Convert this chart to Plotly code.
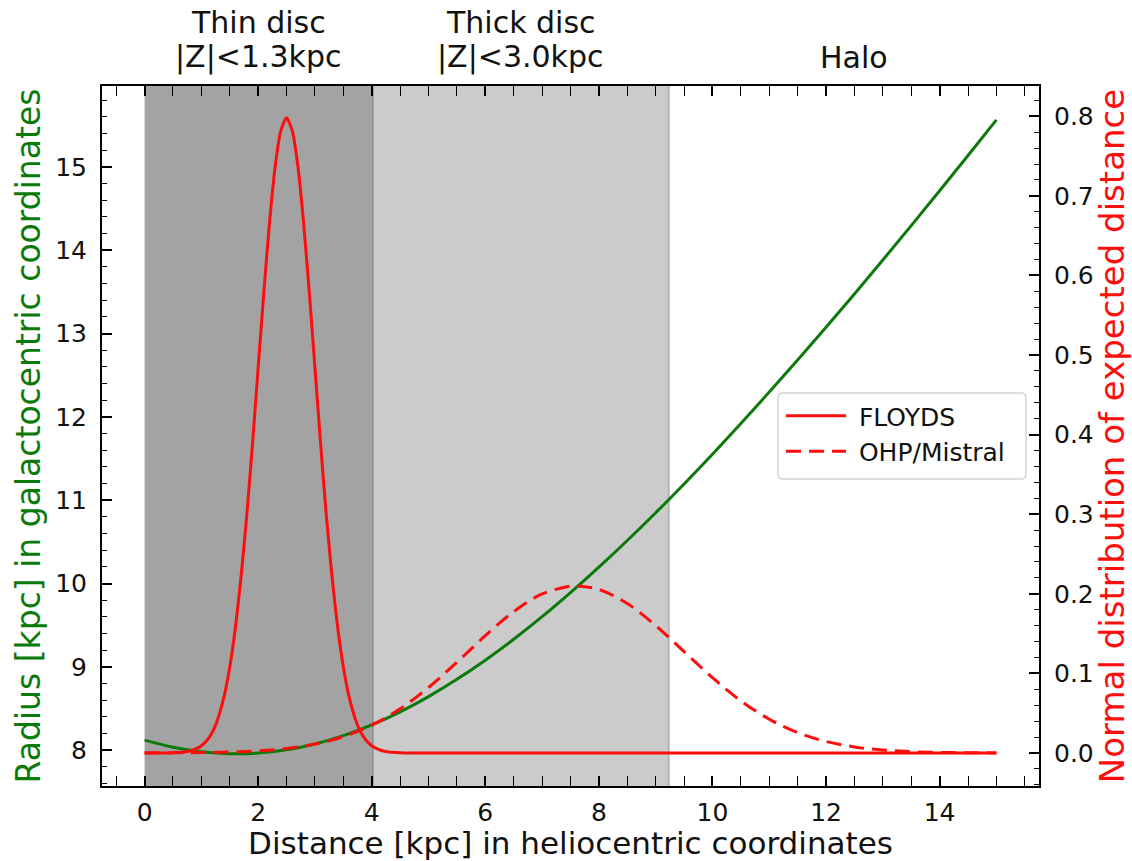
import plotly.graph_objects as go

# ---- data ----
# Galactocentric radius vs heliocentric distance (green, left axis)
dist_green = [0, 0.5, 1, 1.5, 2, 2.5, 3, 3.5, 4, 4.5, 5, 5.5, 6, 6.5, 7, 7.5, 8, 8.5,
              9, 9.5, 10, 10.5, 11, 11.5, 12, 12.5, 13, 13.5, 14, 14.5, 15]
radius = [8.120, 8.035, 7.980, 7.957, 7.965, 8.004, 8.074, 8.174, 8.303, 8.460, 8.643,
          8.850, 9.080, 9.331, 9.602, 9.891, 10.196, 10.516, 10.849, 11.195, 11.552,
          11.920, 12.297, 12.682, 13.075, 13.475, 13.882, 14.295, 14.713, 15.136, 15.563]

# FLOYDS expected-distance distribution (solid red, right axis)
floyds_x = [0, 0.3, 0.5, 0.7, 0.8, 0.9, 1.0, 1.1, 1.2, 1.3, 1.4, 1.5, 1.6, 1.7, 1.8, 1.9,
            2.0, 2.1, 2.2, 2.3, 2.4, 2.5, 2.6, 2.7, 2.8, 2.9, 3.0, 3.1, 3.2, 3.3, 3.4,
            3.5, 3.6, 3.7, 3.8, 3.9, 4.0, 4.1, 4.2, 4.3, 4.5, 4.7, 5.0, 15.0]
floyds_y = [0.0, 0.0, 0.0003, 0.0012, 0.0025, 0.005, 0.009, 0.016, 0.027, 0.045, 0.071,
            0.108, 0.158, 0.222, 0.299, 0.388, 0.484, 0.579, 0.666, 0.737, 0.782, 0.798,
            0.782, 0.737, 0.666, 0.579, 0.484, 0.388, 0.299, 0.222, 0.158, 0.108, 0.071,
            0.045, 0.027, 0.016, 0.009, 0.005, 0.0025, 0.0012, 0.0003, 0.0, 0.0, 0.0]

# OHP/Mistral expected-distance distribution (dashed red, right axis)
ohp_x = [0, 1, 1.5, 2, 2.5, 3, 3.5, 4, 4.5, 5, 5.5, 6, 6.5, 7, 7.5, 7.6, 8, 8.5, 9, 9.5,
         10, 10.5, 11, 11.5, 12, 12.5, 13, 13.5, 14, 14.5, 15]
ohp_y = [0.0001, 0.0005, 0.0012, 0.0027, 0.0057, 0.0112, 0.0205, 0.0349, 0.0555, 0.0823,
         0.1140, 0.1473, 0.1776, 0.1998, 0.2097, 0.2100, 0.2054, 0.1877, 0.1601, 0.1274,
         0.0946, 0.0655, 0.0424, 0.0255, 0.0144, 0.0076, 0.0037, 0.0017, 0.0007, 0.0003,
         0.0001]

# regions (heliocentric distance, kpc)
region_bounds = [0.0, 4.02, 9.23, 15.75]
region_line1 = ["Thin disc", "Thick disc", ""]
region_line2 = ["|Z|<1.3kpc", "|Z|<3.0kpc", "Halo"]
region_fill = ["#a3a3a3", "#cbcbcb", None]

FONT = "DejaVu Sans"
GREEN = "#0b7a0b"
RED = "#ff0d0d"

# plot-area geometry (pixels)
W, H = 1132, 861
PL, PR, PT, PB = 102, 1039, 86, 786


def px_x(p):
    return (p - PL) / (PR - PL)


def px_y(p):
    return (PB - p) / (PB - PT)


fig = go.Figure()
fig.add_trace(go.Scatter(x=dist_green, y=radius, mode="lines", showlegend=False,
                         line=dict(color=GREEN, width=3, shape="spline"), yaxis="y"))
fig.add_trace(go.Scatter(x=floyds_x, y=floyds_y, mode="lines", name="&nbsp;FLOYDS",
                         line=dict(color=RED, width=3, shape="spline", smoothing=0.6),
                         yaxis="y2"))
fig.add_trace(go.Scatter(x=ohp_x, y=ohp_y, mode="lines", name="&nbsp;OHP/Mistral",
                         line=dict(color=RED, width=3, dash="15px,8px", shape="spline"),
                         yaxis="y2"))

shapes = []
for i in range(2):
    shapes.append(dict(type="rect", xref="x", yref="paper", x0=region_bounds[i],
                       x1=region_bounds[i + 1], y0=0, y1=1, fillcolor=region_fill[i],
                       line=dict(width=0), layer="below"))
shapes.append(dict(type="line", xref="x", yref="paper", x0=region_bounds[1], x1=region_bounds[1],
                   y0=0, y1=1, line=dict(color="#8c8c8c", width=1.5), layer="below"))
shapes.append(dict(type="line", xref="x", yref="paper", x0=region_bounds[2], x1=region_bounds[2],
                   y0=0, y1=1, line=dict(color="#b4b4b4", width=2), layer="below"))

# legend frame (rounded, light grey)
lx0, lx1, ly0, ly1 = px_x(778), px_x(1026), px_y(479), px_y(393)
rx, ry = 5 / (PR - PL), 5 / (PB - PT)
legend_path = (f"M{lx0 + rx},{ly0} L{lx1 - rx},{ly0} Q{lx1},{ly0} {lx1},{ly0 + ry} "
               f"L{lx1},{ly1 - ry} Q{lx1},{ly1} {lx1 - rx},{ly1} L{lx0 + rx},{ly1} "
               f"Q{lx0},{ly1} {lx0},{ly1 - ry} L{lx0},{ly0 + ry} Q{lx0},{ly0} {lx0 + rx},{ly0} Z")
shapes.append(dict(type="path", xref="paper", yref="paper", path=legend_path,
                   fillcolor="rgba(255,255,255,0.95)", line=dict(color="#d4d4d4", width=1.5),
                   layer="above"))

annotations = []
for i in range(3):
    xc = (region_bounds[i] + region_bounds[i + 1]) / 2
    if region_line1[i]:
        annotations.append(dict(x=xc, xref="x", y=px_y(22), yref="paper", yanchor="middle",
                                text=region_line1[i], showarrow=False,
                                font=dict(family=FONT, size=30, color="#111")))
    annotations.append(dict(x=xc, xref="x", y=px_y(57), yref="paper", yanchor="middle",
                            text=region_line2[i], showarrow=False,
                            font=dict(family=FONT, size=30, color="#111")))

tickfont = dict(family=FONT, size=25, color="#111")
common = dict(ticks="inside", ticklen=10, tickwidth=1.5, tickcolor="black",
              showline=True, linecolor="black", linewidth=2, showgrid=False,
              zeroline=False, tickfont=tickfont, automargin=False)

fig.update_layout(
    width=W, height=H,
    margin=dict(l=PL, r=W - PR, t=PT, b=H - PB, autoexpand=False),
    paper_bgcolor="white", plot_bgcolor="white",
    font=dict(family=FONT),
    shapes=shapes, annotations=annotations,
    xaxis=dict(range=[-0.75, 15.75], tick0=0, dtick=2, mirror="allticks",
               minor=dict(dtick=0.5, tick0=0, ticks="inside", ticklen=5, tickwidth=1.2,
                          tickcolor="black"),
               title=dict(text="Distance [kpc] in heliocentric coordinates",
                          font=dict(family=FONT, size=31, color="#111"), standoff=6),
               ticklabelstandoff=3, **common),
    yaxis=dict(range=[7.57, 15.97], tick0=8, dtick=1,
               minor=dict(dtick=0.2, tick0=8, ticks="inside", ticklen=5, tickwidth=1.2,
                          tickcolor="black"),
               title=dict(text="Radius [kpc] in galactocentric coordinates",
                          font=dict(family=FONT, size=33, color=GREEN), standoff=5),
               ticklabelstandoff=8, **common),
    yaxis2=dict(range=[-0.0415, 0.838], tick0=0, dtick=0.1, tickformat=".1f",
                overlaying="y", side="right",
                minor=dict(dtick=0.02, tick0=0, ticks="inside", ticklen=5, tickwidth=1.2,
                           tickcolor="black"),
                title=dict(text="Normal distribution of expected distance",
                           font=dict(family=FONT, size=34, color=RED), standoff=6),
                ticklabelstandoff=8, **common),
    legend=dict(x=px_x(781), xanchor="left", y=px_y(393), yanchor="top",
                bgcolor="rgba(0,0,0,0)", borderwidth=0,
                font=dict(family=FONT, size=25, color="#111"), tracegroupgap=0,
                itemwidth=60),
)

fig.write_html("out.html")
